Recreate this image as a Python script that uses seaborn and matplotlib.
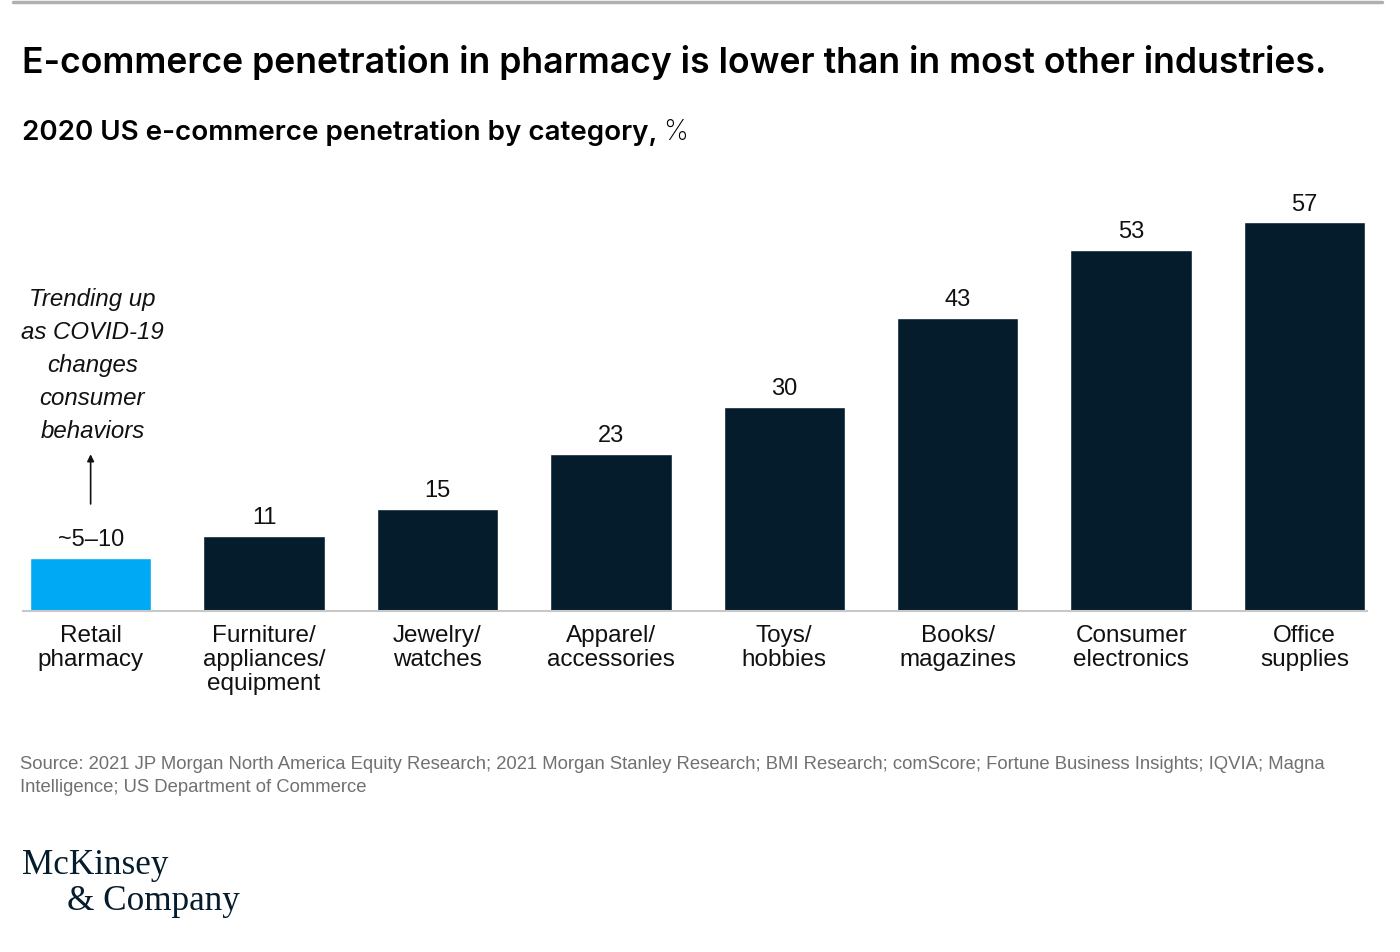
import matplotlib
matplotlib.use("Agg")
import matplotlib.pyplot as plt
import seaborn as sns
import pandas as pd

categories = ["Retail\npharmacy", "Furniture/\nappliances/\nequipment", "Jewelry/\nwatches",
              "Apparel/\naccessories", "Toys/\nhobbies", "Books/\nmagazines",
              "Consumer\nelectronics", "Office\nsupplies"]
values = [7.75, 11, 15, 23, 30, 43, 53, 57]
value_labels = ["~5–10", "11", "15", "23", "30", "43", "53", "57"]
bar_colors = ["#00a9f4", "#051c2c", "#051c2c", "#051c2c", "#051c2c", "#051c2c", "#051c2c", "#051c2c"]

df = pd.DataFrame({"category": categories, "value": values})

sns.set_theme(style="white")
plt.rcParams['font.family'] = ['Liberation Sans', 'DejaVu Sans']

fig = plt.figure(figsize=(14, 9.52), dpi=100)
ax = fig.add_axes([23 / 1400, 1 - 611 / 952, 1344 / 1400, 409 / 952])

sns.barplot(data=df, x="category", y="value", hue="category", palette=bar_colors,
            legend=False, width=0.70, saturation=1, ax=ax)

ax.set_xlim(-0.39, 7.36)
ax.set_ylim(0, 60)
ax.set_xlabel("")
ax.set_ylabel("")
ax.set_yticks([])
for side in ["top", "right", "left"]:
    ax.spines[side].set_visible(False)
ax.spines["bottom"].set_color("#c8c8c8")
ax.spines["bottom"].set_linewidth(1.5)
ax.tick_params(axis="x", length=0, pad=10, labelsize=17.5, labelcolor="#111111")
for lbl in ax.get_xticklabels():
    lbl.set_linespacing(1.12)
    lbl.set_verticalalignment("top")

for i, (v, t) in enumerate(zip(values, value_labels)):
    ax.annotate(t, (i, v), xytext=(0, 5), textcoords="offset points",
                ha="center", va="bottom", fontsize=17, color="#111111")

# annotation for retail pharmacy
ax.annotate("", xy=(0, 23.4), xytext=(0, 15.3),
            arrowprops=dict(arrowstyle="-|>", color="#111111", lw=1.2, mutation_scale=10))
ax.text(0.01, 24.7, "Trending up\nas COVID-19\nchanges\nconsumer\nbehaviors",
        ha="center", va="bottom", fontsize=17.3, style="italic", color="#111111",
        linespacing=1.55)

# top rule
fig.add_artist(plt.Line2D([13 / 1400, 1382 / 1400], [1 - 1.5 / 952, 1 - 1.5 / 952],
                          color="#b0b0b0", lw=2.5))

fig.text(22 / 1400, 1 - 62 / 952, "E-commerce penetration in pharmacy is lower than in most other industries.",
         fontsize=25.6, fontweight="semibold", family=["Inter", "DejaVu Sans"],
         va="center", ha="left", color="#000000")
t1 = fig.text(22 / 1400, 1 - 132 / 952, "2020 US e-commerce penetration by category,",
              fontsize=20, fontweight="semibold", family=["Inter", "DejaVu Sans"],
              va="center", ha="left", color="#000000")
fig.canvas.draw()
bb = t1.get_window_extent()
fig.text(bb.x1 / 1400 + 6 / 1400, 1 - 132 / 952, "%", fontsize=20, family=["Inter", "DejaVu Sans"],
         fontweight="light", va="center", ha="left", color="#000000")

fig.text(20 / 1400, 1 - 776 / 952,
         "Source: 2021 JP Morgan North America Equity Research; 2021 Morgan Stanley Research; BMI Research; "
         "comScore; Fortune Business Insights; IQVIA; Magna\nIntelligence; US Department of Commerce",
         fontsize=13.3, color="#707070", va="center", ha="left", linespacing=1.4)

fig.text(22 / 1400, 1 - 866 / 952, "McKinsey", fontsize=25.3, family=["Liberation Serif"],
         color="#051c2c", va="center", ha="left")
fig.text(67 / 1400, 1 - 901 / 952, "& Company", fontsize=25.3, family=["Liberation Serif"],
         color="#051c2c", va="center", ha="left")

fig.savefig("out.png", dpi=100)
